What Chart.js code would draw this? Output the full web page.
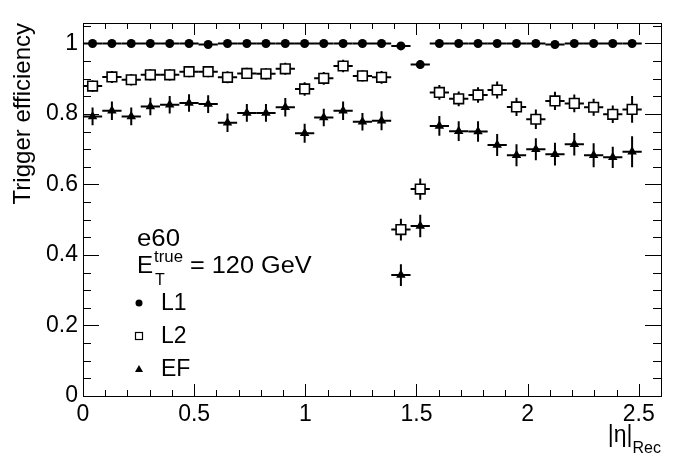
<!DOCTYPE html>
<html>
<head>
<meta charset="utf-8">
<script src="https://cdn.jsdelivr.net/npm/chart.js@4.4.1/dist/chart.umd.min.js"></script>
<style>
    html, body { margin: 0; padding: 0; background: #fff; }
    #chart { display: block; }
</style>
</head>
<body>
<canvas id="chart" width="696" height="472"></canvas>
<script>
// bin centres in |eta| (30 bins of 0.0867 from 0 to 2.6, last bin empty)
const eta = [0.043, 0.130, 0.217, 0.303, 0.390, 0.477, 0.563, 0.650, 0.737, 0.823,
    0.910, 0.997, 1.083, 1.170, 1.257, 1.343, 1.430, 1.517, 1.603, 1.690,
    1.777, 1.863, 1.950, 2.037, 2.123, 2.210, 2.297, 2.383, 2.470];
const etaHalfWidth = 0.0433;

const l1Eff = [1.000, 1.000, 1.000, 1.000, 1.000, 1.000, 0.997, 1.000, 1.000, 1.000,
    1.000, 1.000, 1.000, 1.000, 1.000, 1.000, 0.993, 0.940, 1.000, 1.000,
    1.000, 1.000, 1.000, 1.000, 0.997, 1.000, 1.000, 1.000, 1.000];
const l1Err = [0.002, 0.002, 0.002, 0.002, 0.002, 0.002, 0.002, 0.002, 0.002, 0.002,
    0.002, 0.002, 0.002, 0.002, 0.002, 0.002, 0.004, 0.012, 0.002, 0.002,
    0.002, 0.002, 0.002, 0.002, 0.002, 0.002, 0.002, 0.002, 0.002];

const l2Eff = [0.879, 0.905, 0.897, 0.911, 0.911, 0.920, 0.920, 0.904, 0.915, 0.914,
    0.928, 0.871, 0.901, 0.936, 0.908, 0.904, 0.472, 0.587, 0.861, 0.843,
    0.854, 0.868, 0.820, 0.785, 0.837, 0.830, 0.819, 0.799, 0.813];
const l2Err = [0.016, 0.017, 0.016, 0.016, 0.016, 0.016, 0.016, 0.017, 0.016, 0.016,
    0.017, 0.019, 0.018, 0.018, 0.016, 0.018, 0.031, 0.030, 0.021, 0.021,
    0.022, 0.024, 0.026, 0.028, 0.026, 0.025, 0.024, 0.025, 0.038];

const efEff = [0.793, 0.809, 0.793, 0.821, 0.826, 0.831, 0.828, 0.775, 0.803, 0.803,
    0.819, 0.745, 0.790, 0.809, 0.778, 0.781, 0.343, 0.482, 0.766, 0.751,
    0.750, 0.712, 0.683, 0.700, 0.686, 0.714, 0.683, 0.677, 0.693];
const efErr = [0.025, 0.026, 0.025, 0.025, 0.025, 0.025, 0.025, 0.026, 0.025, 0.025,
    0.026, 0.027, 0.025, 0.026, 0.025, 0.027, 0.031, 0.032, 0.028, 0.028,
    0.029, 0.031, 0.031, 0.031, 0.032, 0.032, 0.034, 0.030, 0.044];

const xTicks = [0, 0.5, 1, 1.5, 2, 2.5];
const yTicks = [0, 0.2, 0.4, 0.6, 0.8, 1];

const FONT = "'Liberation Sans', Arial, Helvetica, sans-serif";

function toPoints(values) {
    return eta.map((x, i) => ({ x: x, y: values[i] }));
}

// ROOT style frame with inward ticks on all four sides
const rootFrame = {
    id: 'rootFrame',
    afterDraw(chart) {
        const { ctx, chartArea: a, scales: { x, y } } = chart;
        ctx.save();
        ctx.strokeStyle = '#000';
        ctx.lineWidth = 1;
        ctx.strokeRect(Math.round(a.left) + 0.5, Math.round(a.top) + 0.5,
            Math.round(a.right - a.left), Math.round(a.bottom - a.top));

        ctx.beginPath();
        for (let v = 0; v <= x.max + 1e-9; v += 0.1) {
            const px = Math.round(x.getPixelForValue(v)) + 0.5;
            const major = Math.abs(v / 0.5 - Math.round(v / 0.5)) < 1e-6;
            const len = major ? 12 : 6;
            ctx.moveTo(px, a.bottom); ctx.lineTo(px, a.bottom - len);
            ctx.moveTo(px, a.top); ctx.lineTo(px, a.top + len);
        }
        for (let v = 0; v <= y.max + 1e-9; v += 0.05) {
            const py = Math.round(y.getPixelForValue(v)) + 0.5;
            const major = Math.abs(v / 0.2 - Math.round(v / 0.2)) < 1e-6;
            const len = major ? 16 : 8;
            ctx.moveTo(a.left, py); ctx.lineTo(a.left + len, py);
            ctx.moveTo(a.right, py); ctx.lineTo(a.right - len, py);
        }
        ctx.stroke();
        ctx.restore();
    }
};

// x and y error bars, drawn under the markers
const errorBars = {
    id: 'errorBars',
    beforeDatasetsDraw(chart) {
        const { ctx, scales: { x, y } } = chart;
        ctx.save();
        ctx.strokeStyle = '#000';
        ctx.lineWidth = 2;
        chart.data.datasets.forEach(ds => {
            ds.data.forEach((p, i) => {
                const px = x.getPixelForValue(p.x);
                const py = y.getPixelForValue(p.y);
                const x0 = x.getPixelForValue(p.x - etaHalfWidth);
                const x1 = x.getPixelForValue(p.x + etaHalfWidth);
                const y0 = y.getPixelForValue(p.y - ds.errors[i]);
                const y1 = y.getPixelForValue(p.y + ds.errors[i]);
                ctx.beginPath();
                ctx.moveTo(x0, py); ctx.lineTo(x1, py);
                ctx.moveTo(px, y0); ctx.lineTo(px, y1);
                ctx.stroke();
            });
        });
        ctx.restore();
    }
};

// slightly wide text, like the ROOT latex rendering
function wideText(ctx, text, x, y, stretch) {
    ctx.save();
    ctx.translate(x, y);
    ctx.scale(stretch, 1);
    ctx.fillText(text, 0, 0);
    ctx.restore();
    return ctx.measureText(text).width * stretch;
}

// axis titles and the text/legend block
const annotations = {
    id: 'annotations',
    afterDraw(chart) {
        const { ctx, chartArea: a } = chart;
        ctx.save();
        ctx.fillStyle = '#000';
        ctx.textBaseline = 'alphabetic';

        // y title
        ctx.save();
        ctx.translate(30, a.top);
        ctx.rotate(-Math.PI / 2);
        ctx.textAlign = 'right';
        ctx.font = '24px ' + FONT;
        ctx.fillText('Trigger efficiency', 0, 0);
        ctx.restore();

        // x title |eta|_Rec
        ctx.textAlign = 'left';
        ctx.font = '16px ' + FONT;
        const recW = ctx.measureText('Rec').width;
        ctx.fillText('Rec', a.right - recW, 453);
        ctx.font = '23px ' + FONT;
        const etaW = ctx.measureText('|\u03b7|').width;
        ctx.fillText('|\u03b7|', a.right - recW - etaW, 442);

        // text block
        ctx.font = '23px ' + FONT;
        wideText(ctx, 'e60', 137, 246, 1.12);
        const eW = wideText(ctx, 'E', 137, 273, 1.05);
        ctx.font = '16px ' + FONT;
        wideText(ctx, 'true', 137 + eW + 1, 262, 1.05);
        ctx.fillText('T', 137 + eW + 2, 285);
        ctx.font = '23px ' + FONT;
        wideText(ctx, '= 120 GeV', 190, 273, 1.1);

        // legend entries
        const entries = [
            { text: 'L1', style: 'circle', y: 303 },
            { text: 'L2', style: 'square', y: 336 },
            { text: 'EF', style: 'triangle', y: 369 },
        ];
        entries.forEach(e => {
            const mx = 139;
            ctx.beginPath();
            if (e.style === 'circle') {
                ctx.arc(mx, e.y, 3.5, 0, Math.PI * 2);
                ctx.fill();
            } else if (e.style === 'square') {
                ctx.lineWidth = 1.2;
                ctx.strokeRect(mx - 3.5, e.y - 3.5, 7, 7);
            } else {
                ctx.moveTo(mx, e.y - 4);
                ctx.lineTo(mx + 4, e.y + 3);
                ctx.lineTo(mx - 4, e.y + 3);
                ctx.closePath();
                ctx.fill();
            }
            ctx.font = '23px ' + FONT;
            ctx.fillText(e.text, 161, e.y + 7);
        });
        ctx.restore();
    }
};

const ctx = document.getElementById('chart').getContext('2d');

new Chart(ctx, {
    type: 'scatter',
    data: {
        datasets: [
            {
                label: 'L1',
                data: toPoints(l1Eff),
                errors: l1Err,
                pointStyle: 'circle',
                pointRadius: 4.5,
                backgroundColor: '#000',
                borderColor: '#000',
                borderWidth: 0,
            },
            {
                label: 'L2',
                data: toPoints(l2Eff),
                errors: l2Err,
                pointStyle: 'rect',
                pointRadius: 6.8,
                backgroundColor: '#fff',
                borderColor: '#000',
                borderWidth: 1.6,
            },
            {
                label: 'EF',
                data: toPoints(efEff),
                errors: efErr,
                pointStyle: 'triangle',
                pointRadius: 5.5,
                backgroundColor: '#000',
                borderColor: '#000',
                borderWidth: 0,
            },
        ]
    },
    options: {
        responsive: false,
        animation: false,
        devicePixelRatio: 1,
        layout: { padding: { top: 23, right: 35, left: 0, bottom: 0 } },
        plugins: {
            legend: { display: false },
            tooltip: { enabled: false },
        },
        scales: {
            x: {
                type: 'linear',
                min: 0,
                max: 2.6,
                afterBuildTicks: scale => { scale.ticks = xTicks.map(v => ({ value: v })); },
                afterFit: scale => { scale.height = 76; },
                grid: { display: false, drawTicks: false },
                border: { display: false },
                ticks: {
                    color: '#000',
                    font: { family: FONT, size: 23 },
                    padding: 5,
                    maxRotation: 0,
                    autoSkip: false,
                    callback: value => String(value),
                },
            },
            y: {
                type: 'linear',
                min: 0,
                max: 1.058,
                afterBuildTicks: scale => { scale.ticks = yTicks.map(v => ({ value: v })); },
                afterFit: scale => { scale.width = 83; },
                grid: { display: false, drawTicks: false },
                border: { display: false },
                ticks: {
                    color: '#000',
                    font: { family: FONT, size: 23 },
                    padding: 5,
                    autoSkip: false,
                    callback: value => String(value),
                },
            },
        },
    },
    plugins: [errorBars, rootFrame, annotations],
});
</script>
</body>
</html>
